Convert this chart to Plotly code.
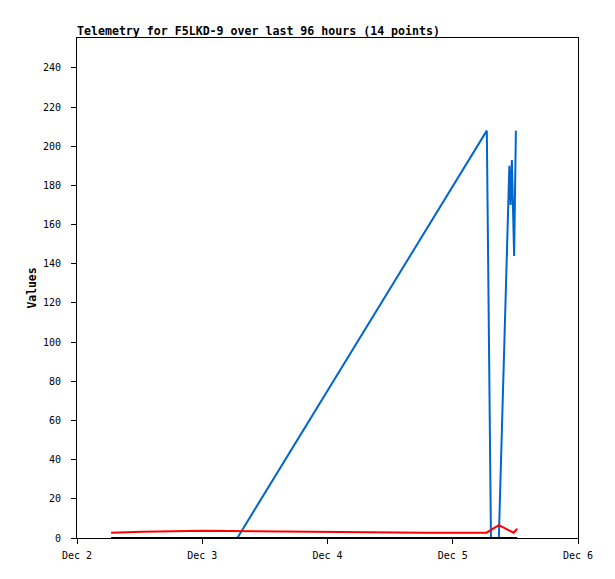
import plotly.graph_objects as go
from datetime import datetime, timedelta

base = datetime(2023, 12, 2)

def d(day):
    return base + timedelta(days=day - 2)

# Blue series
blue_days = [3.28, 5.272, 5.305, 5.368, 5.452, 5.462, 5.472, 5.49, 5.504]
blue_vals = [0, 208, 0, 0, 190, 170, 193, 144, 208]

# Red series
red_days = [2.272, 2.52, 3.016, 3.776, 4.784, 5.27, 5.368, 5.485, 5.515]
red_vals = [2.7, 3.2, 3.7, 3.2, 2.7, 2.7, 6.6, 2.7, 4.7]

# Black series
black_days = [2.272, 5.515]
black_vals = [0, 0]

tick_days = [2, 3, 4, 5, 6]
tick_labels = ["Dec 2", "Dec 3", "Dec 4", "Dec 5", "Dec 6"]

FONT = "DejaVu Sans Mono"

fig = go.Figure()
fig.add_trace(go.Scatter(x=[d(v) for v in blue_days], y=blue_vals, mode="lines",
                         line=dict(color="#0066cc", width=2), showlegend=False))
fig.add_trace(go.Scatter(x=[d(v) for v in red_days], y=red_vals, mode="lines",
                         line=dict(color="#ff0000", width=2), showlegend=False))
fig.add_trace(go.Scatter(x=[d(v) for v in black_days], y=black_vals, mode="lines",
                         line=dict(color="#000000", width=2), showlegend=False))

fig.update_layout(
    width=607, height=571,
    margin=dict(l=69, r=37, t=30, b=41),
    paper_bgcolor="white", plot_bgcolor="white",
    font=dict(family=FONT, size=10, color="black"),
    title=dict(text="<b>Telemetry for F5LKD-9 over last 96 hours (14 points)</b>",
               x=69/607, xanchor="left", y=1 - 23/571, yanchor="middle",
               font=dict(family=FONT, size=11.6, color="black")),
    xaxis=dict(range=[d(2), d(6)], tickvals=[d(v) for v in tick_days], ticktext=tick_labels,
               showgrid=False, zeroline=False, showline=True, linecolor="black", linewidth=1,
               mirror=True, ticks="outside", ticklen=5, tickcolor="black",
               ticklabelstandoff=3,
               tickfont=dict(family=FONT, size=10)),
    yaxis=dict(range=[0, 255.3], tickvals=list(range(0, 241, 20)),
               showgrid=False, zeroline=False, showline=True, linecolor="black", linewidth=1,
               mirror=True, ticks="outside", ticklen=5, tickcolor="black",
               ticklabelstandoff=8,
               title=dict(text="<b>Values</b>", standoff=3,
                          font=dict(family=FONT, size=11.4)),
               tickfont=dict(family=FONT, size=10)),
)

fig.write_html("out.html")
